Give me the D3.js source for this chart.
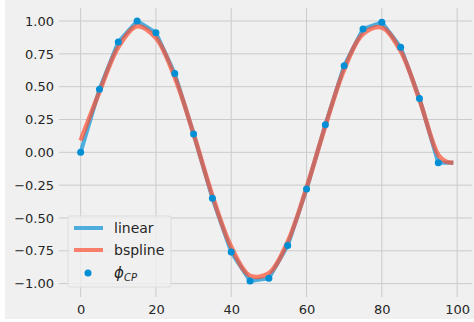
<!DOCTYPE html>
<html><head><meta charset="utf-8">
<script src="https://cdn.jsdelivr.net/npm/d3@7"></script>
<style>
html,body{margin:0;padding:0;background:#fff;}
svg{display:block;}
text{font-family:"DejaVu Sans",sans-serif;}
</style></head>
<body>
<script>
// Control points (phi_CP)
const cpX = [0,5,10,15,20,25,30,35,40,45,50,55,60,65,70,75,80,85,90,95];
const cpY = [0.0,0.48,0.84,1.0,0.91,0.60,0.14,-0.35,-0.76,-0.98,-0.96,-0.71,-0.28,0.21,0.66,0.94,0.99,0.80,0.41,-0.08];
// Linear interpolation line
const linX = [0,5,10,15,20,25,30,35,40,45,50,55,60,65,70,75,80,85,90,95,99];
const linY = [0.0,0.48,0.84,1.0,0.91,0.60,0.14,-0.35,-0.76,-0.98,-0.96,-0.71,-0.28,0.21,0.66,0.94,0.99,0.80,0.41,-0.08,-0.08];
// B-spline curve samples
const bsX = [0,5,10,15,20,25,30,35,40,45,50,55,60,65,70,75,80,85,90,95,97,99];
const bsY = [0.09,0.46,0.80,0.96,0.87,0.57,0.14,-0.33,-0.72,-0.94,-0.92,-0.68,-0.27,0.20,0.63,0.90,0.95,0.77,0.40,-0.02,-0.07,-0.08];
const xTicks = [0,20,40,60,80,100];
const yTicks = [-1.0,-0.75,-0.5,-0.25,0.0,0.25,0.5,0.75,1.0];
const legendLabels = ["linear","bspline"];

const W = 474, H = 322;
const svg = d3.select("body").append("svg").attr("width",W).attr("height",H);
svg.append("rect").attr("x",5).attr("y",0).attr("width",W-5).attr("height",319).attr("fill","#f0f0f0");

const x = d3.scaleLinear().domain([-4.95,103.95]).range([62,472]);
const y = d3.scaleLinear().domain([-1.079,1.099]).range([294,8]);

const g = svg.append("g");
// grid
g.selectAll(".vg").data(xTicks).join("line")
  .attr("x1",d=>x(d)).attr("x2",d=>x(d)).attr("y1",y.range()[1]).attr("y2",y.range()[0]+3)
  .attr("stroke","#cbcbcb").attr("stroke-width",1);
g.selectAll(".hg").data(yTicks).join("line")
  .attr("y1",d=>y(d)).attr("y2",d=>y(d)).attr("x1",x.range()[0]-3).attr("x2",x.range()[1])
  .attr("stroke","#cbcbcb").attr("stroke-width",1);

// axes labels
const xa = svg.append("g").attr("transform",`translate(0,${y.range()[0]})`)
  .call(d3.axisBottom(x).tickValues(xTicks).tickSize(0).tickPadding(11).tickFormat(d3.format("d")));
const ya = svg.append("g").attr("transform",`translate(${x.range()[0]},0)`)
  .call(d3.axisLeft(y).tickValues(yTicks).tickSize(0).tickPadding(8).tickFormat(d=>d3.format(".2f")(d).replace("-","\u2212")));
[xa,ya].forEach(a=>{a.select(".domain").remove(); a.selectAll("text").attr("font-size",13).attr("fill","#262626").attr("font-family","DejaVu Sans");});

const line = d3.line().x(d=>x(d[0])).y(d=>y(d[1]));
svg.append("path").datum(linX.map((v,i)=>[v,linY[i]]))
  .attr("d",line).attr("fill","none").attr("stroke","#30a2da").attr("stroke-opacity",0.85).attr("stroke-width",4).attr("stroke-linejoin","round");
svg.append("path").datum(bsX.map((v,i)=>[v,bsY[i]]))
  .attr("d",line.curve(d3.curveCatmullRom)).attr("fill","none").attr("stroke","#fc4f30").attr("stroke-opacity",0.7).attr("stroke-width",4.5).attr("stroke-linecap","butt");
svg.selectAll(".cp").data(cpX.map((v,i)=>[v,cpY[i]])).join("circle")
  .attr("cx",d=>x(d[0])).attr("cy",d=>y(d[1])).attr("r",3.5).attr("fill","#008fd5");

// legend
const lg = svg.append("g").attr("transform","translate(68,216)");
lg.append("rect").attr("width",103).attr("height",71).attr("rx",2).attr("fill","#f0f0f0").attr("fill-opacity",0.8).attr("stroke","#dcdcdc").attr("stroke-width",1);
const cols = ["#30a2da","#fc4f30"];
legendLabels.forEach((t,i)=>{
  const yy = 12+i*22;
  lg.append("line").attr("x1",6).attr("x2",35).attr("y1",yy).attr("y2",yy).attr("stroke",cols[i]).attr("stroke-opacity",i?0.7:0.85).attr("stroke-width",4);
  lg.append("text").attr("x",46).attr("y",yy+5).attr("font-size",14).attr("fill","#262626").text(t);
});
lg.append("circle").attr("cx",20).attr("cy",57).attr("r",3.5).attr("fill","#008fd5");
const ph = lg.append("text").attr("x",46).attr("y",62).attr("font-size",15).attr("fill","#262626").attr("font-style","italic");
ph.append("tspan").text("\u03d5");
ph.append("tspan").attr("font-size",10).attr("dy",3).text("CP");
</script>
</body></html>
